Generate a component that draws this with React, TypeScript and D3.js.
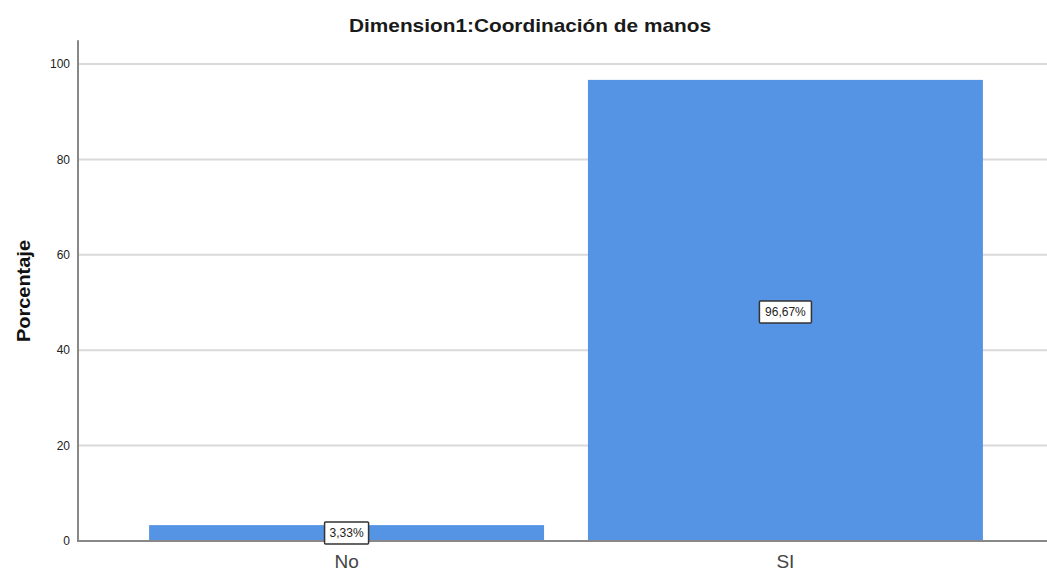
import React from 'react';
import * as d3 from 'd3';

const categories = ['No', 'SI'];
const percentages = [3.33, 96.67];
const valueLabels = ['3,33%', '96,67%'];
const yTicks = [0, 20, 40, 60, 80, 100];

const width = 1047;
const height = 572;

export default function App() {
  const left = 78;
  const bottom = 541;

  const xScale = d3.scaleBand<string>()
    .domain(categories)
    .range([left, 1054])
    .paddingInner(0.1)
    .paddingOuter(0.162);

  const yScale = d3.scaleLinear()
    .domain([0, 100])
    .range([bottom, 64]);

  const axisTop = yScale(105);

  return (
    <svg
      width={width}
      height={height}
      style={{ position: 'fixed', left: 0, top: 0, background: '#fff' }}
      fontFamily="'Liberation Sans', Arial, sans-serif"
    >
      {/* Title */}
      <text x={530} y={32} textAnchor="middle" fontSize={19} fontWeight="bold" fill="#1a1a1a"
        textLength={362} lengthAdjust="spacingAndGlyphs">
        Dimension1:Coordinación de manos
      </text>

      {/* Grid lines */}
      {yTicks.filter(t => t > 0).map(t => (
        <line key={t} x1={left} x2={width} y1={yScale(t)} y2={yScale(t)} stroke="#d9d9d9" strokeWidth={2} />
      ))}

      {/* Bars */}
      {categories.map((c, i) => (
        <rect
          key={c}
          x={xScale(c)}
          y={yScale(percentages[i])}
          width={xScale.bandwidth()}
          height={bottom - yScale(percentages[i])}
          fill="#5594e4"
        />
      ))}

      {/* Axes */}
      <line x1={left} x2={left} y1={axisTop} y2={bottom + 1} stroke="#888" strokeWidth={2} />
      <line x1={left} x2={width} y1={bottom} y2={bottom} stroke="#888" strokeWidth={2} />

      {/* Y ticks */}
      {yTicks.map(t => (
        <text key={t} x={70} y={yScale(t)} dy="0.35em" textAnchor="end" fontSize={12} fill="#222">
          {t}
        </text>
      ))}

      {/* Y label */}
      <text
        transform={`translate(30, 291) rotate(-90)`}
        textAnchor="middle"
        fontSize={19}
        fontWeight="bold"
        fill="#111"
        textLength={102}
        lengthAdjust="spacingAndGlyphs"
      >
        Porcentaje
      </text>

      {/* X labels */}
      {categories.map(c => (
        <text key={c} x={(xScale(c) || 0) + xScale.bandwidth() / 2} y={568} textAnchor="middle" fontSize={19} fill="#444">
          {c}
        </text>
      ))}

      {/* Value labels */}
      {categories.map((c, i) => {
        const cx = (xScale(c) || 0) + xScale.bandwidth() / 2;
        const cy = i === 0 ? 533 : (yScale(percentages[i]) + bottom) / 2 + 1.5;
        const w = valueLabels[i].length * 8 + 4;
        return (
          <g key={c}>
            <rect x={cx - w / 2} y={cy - 11} width={w} height={22} fill="#fff" stroke="#333" strokeWidth={1.5} rx={1} />
            <text x={cx} y={cy} dy="0.36em" textAnchor="middle" fontSize={12} fill="#222">
              {valueLabels[i]}
            </text>
          </g>
        );
      })}
    </svg>
  );
}
